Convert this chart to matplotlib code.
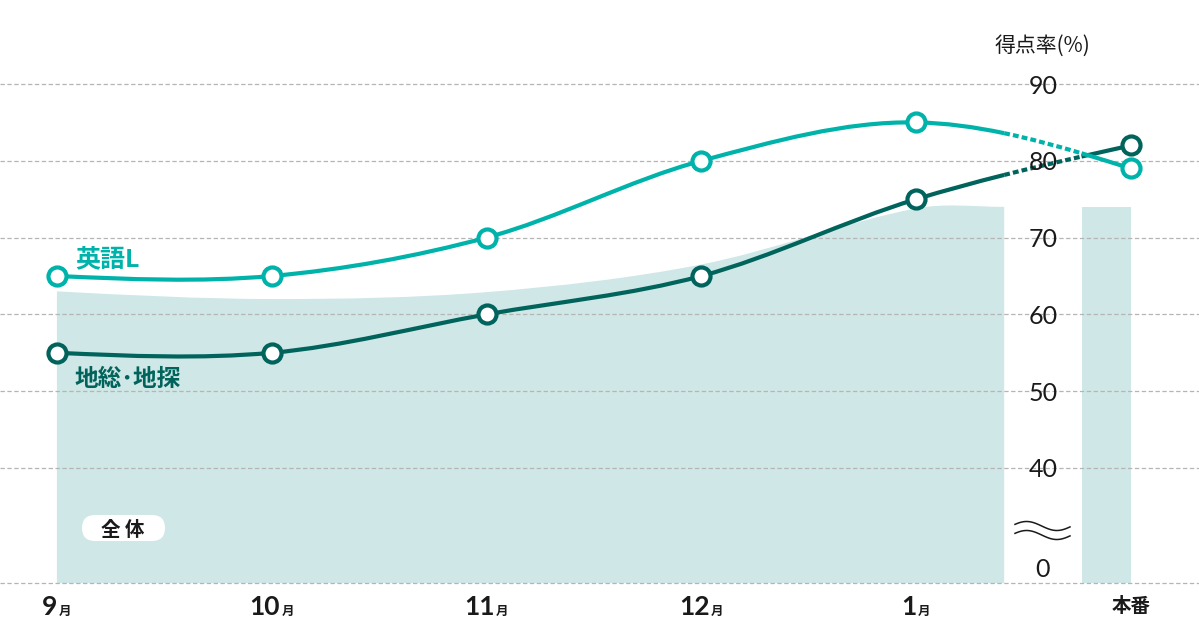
import numpy as np
import matplotlib
matplotlib.use('Agg')
import matplotlib.pyplot as plt
import matplotlib.transforms as mtransforms
from matplotlib.path import Path
from matplotlib.patches import PathPatch, FancyBboxPatch
from matplotlib.offsetbox import TextArea, HPacker, AnnotationBbox

plt.rcParams['font.family'] = ['Noto Sans CJK JP', 'DejaVu Sans']

# data
months = ['9', '10', '11', '12', '1']
final_label = '本番'
eng_values = [65, 65, 70, 80, 85, 79]       # 英語L
geo_values = [55, 55, 60, 65, 75, 82]       # 地総・地探
total_values = [63, 62, 62.9, 66.5, 73.8, 74]  # 全体 (last = 本番)
y_ticks = [0, 40, 50, 60, 70, 80, 90]

# colours
ENG = '#00b3aa'
GEO = '#00645c'
AREA = '#cfe7e6'
GRID = '#b5b5b5'
TXT = '#1a1a1a'

# layout
AREA_END = 4.41
BAR_START = 4.77
GAP_MID = (AREA_END + BAR_START) / 2


# broken y axis: 0..40 squeezed into a short band
def forward(v):
    v = np.asarray(v, dtype=float)
    return np.where(v >= 40, v, 25 + v * 15 / 40)


def inverse(p):
    p = np.asarray(p, dtype=float)
    return np.where(p >= 40, p, (p - 25) * 40 / 15)


def hermite_segments(xs, ys, end_slope=None):
    xs = np.asarray(xs, dtype=float)
    ys = np.asarray(ys, dtype=float)
    n = len(xs)
    m = np.zeros(n)
    for i in range(1, n - 1):
        m[i] = (ys[i + 1] - ys[i - 1]) / (xs[i + 1] - xs[i - 1])
    m[0] = (3 * (ys[1] - ys[0]) / (xs[1] - xs[0]) - m[1]) / 2
    if end_slope is None:
        m[-1] = (3 * (ys[-1] - ys[-2]) / (xs[-1] - xs[-2]) - m[-2]) / 2
    else:
        m[-1] = end_slope
    segs = []
    for i in range(n - 1):
        h = xs[i + 1] - xs[i]
        segs.append(np.array([[xs[i], ys[i]],
                              [xs[i] + h / 3, ys[i] + m[i] * h / 3],
                              [xs[i + 1] - h / 3, ys[i + 1] - m[i + 1] * h / 3],
                              [xs[i + 1], ys[i + 1]]]))
    return segs


def split(seg, t):
    p0, p1, p2, p3 = seg
    a = p0 + (p1 - p0) * t
    b = p1 + (p2 - p1) * t
    c = p2 + (p3 - p2) * t
    d = a + (b - a) * t
    e = b + (c - b) * t
    f = d + (e - d) * t
    return np.array([p0, a, d, f]), np.array([f, e, c, p3])


def to_path(segs):
    verts = [segs[0][0]]
    codes = [Path.MOVETO]
    for s in segs:
        verts += list(s[1:])
        codes += [Path.CURVE4] * 3
    return Path(np.array(verts), codes)


fig = plt.figure(figsize=(11.99, 6.44), dpi=100)
ax = fig.add_axes([0, 0, 1, 1])
ax.set_yscale('function', functions=(forward, inverse))

xs = np.arange(len(months) + 1)

# 全体 area + 本番 bar
area_x = list(xs[:-1]) + [AREA_END]
asegs = hermite_segments(area_x, total_values, end_slope=0)
verts = [[0, 0], [0, total_values[0]]]
codes = [Path.MOVETO, Path.LINETO]
for s in asegs:
    verts += list(s[1:])
    codes += [Path.CURVE4] * 3
verts += [[AREA_END, 0], [0, 0]]
codes += [Path.LINETO, Path.CLOSEPOLY]
ax.add_patch(PathPatch(Path(np.array(verts), codes), fc=AREA, ec='none', zorder=1))
ax.bar(xs[-1], total_values[-1], width=-(xs[-1] - BAR_START), align='edge',
       color=AREA, zorder=1)


def draw_series(values, color, z):
    segs = hermite_segments(xs, values)
    t1 = AREA_END - xs[-2]
    t2 = BAR_START - xs[-2]
    head, rest = split(segs[-1], t1)
    mid, tail = split(rest, (t2 - t1) / (1 - t1))
    kw = dict(fill=False, ec=color, lw=3, zorder=z, capstyle='butt')
    ax.add_patch(PathPatch(to_path(segs[:-1] + [head]), **kw))
    ax.add_patch(PathPatch(to_path([mid]), ls=(0, (1.4, 0.75)), **kw))
    ax.add_patch(PathPatch(to_path([tail]), **kw))
    ax.plot(xs, values, 'o', ms=13, mfc='white', mec=color, mew=3, zorder=z + 2)


draw_series(geo_values, GEO, 3)
draw_series(eng_values, ENG, 3.5)

# series labels
ax.annotate('英語L', (xs[0], eng_values[0]), xytext=(13, 12), textcoords='offset points',
            ha='left', va='center', fontsize=18, fontweight='bold', color=ENG, zorder=6)
ax.annotate('地総･地探', (xs[0], geo_values[0]), xytext=(13, -19), textcoords='offset points',
            ha='left', va='center', fontsize=17, fontweight='bold', color=GEO, zorder=6)

# 全体 pill
pill = FancyBboxPatch((82, 644 - 541), 83, 26, boxstyle='round,pad=0,rounding_size=13',
                      transform=mtransforms.IdentityTransform(), fc='white', ec='none', zorder=5)
ax.add_artist(pill)
ax.text(123 / 1199, 1 - 528 / 644, '全 体', transform=ax.transAxes, ha='center',
        va='center_baseline', fontsize=14, fontweight='bold', color=TXT, zorder=6)

# grid
ax.set_yticks(y_ticks)
ax.yaxis.grid(True, ls=(0, (3.5, 2)), color=GRID, lw=0.9)
ax.set_axisbelow('line')
ax.set_xticks([])
ax.tick_params(length=0, labelleft=False, labelbottom=False)
for sp in ax.spines.values():
    sp.set_visible(False)

# y labels inside the gap
for v in y_ticks:
    if v == 0:
        ax.annotate('0', (GAP_MID, v), xytext=(0, 11.5), textcoords='offset points',
                    ha='center', va='center_baseline', fontsize=18, family='Lato',
                    color=TXT, zorder=7)
    else:
        ax.text(GAP_MID, v, str(v), ha='center', va='center_baseline', fontsize=18,
                family='Lato', color=TXT, zorder=7)

top = mtransforms.blended_transform_factory(ax.transData, ax.transAxes)
ax.text(GAP_MID, 1 - 43 / 644, '得点率(%)', transform=top, ha='center', va='center_baseline',
        fontsize=15, color=TXT)

# wavy break mark
u = np.linspace(0, 1, 80)
wx = (1015 + u * 55) / 1199
for cy in (526, 535):
    wy = 1 - (cy - 4.5 * np.cos(2 * np.pi * (u - 0.21) / 1.1)) / 644
    ax.plot(wx, wy, color=TXT, lw=1.1, transform=ax.transAxes, zorder=7)

# x labels
lab_y = 1 - 607 / 644
for i, m in enumerate(months):
    box = HPacker(children=[
        TextArea(m, textprops=dict(fontsize=19, fontweight='bold', family='Lato', color=TXT)),
        TextArea('月', textprops=dict(fontsize=9, fontweight='bold', color=TXT))],
        align='baseline', pad=0, sep=1)
    ab = AnnotationBbox(box, (xs[i], lab_y), xycoords=('data', 'axes fraction'),
                        frameon=False, box_alignment=(0.5, 0.5), pad=0)
    ax.add_artist(ab)
ax.text(xs[-1], lab_y, final_label, transform=top, ha='center', va='center',
        fontsize=14, fontweight='bold', color=TXT)

ax.set_xlim(-0.265, 5.317)
ax.set_ylim(float(inverse(17.08)), 100.94)

fig.savefig('out.png', dpi=100)
